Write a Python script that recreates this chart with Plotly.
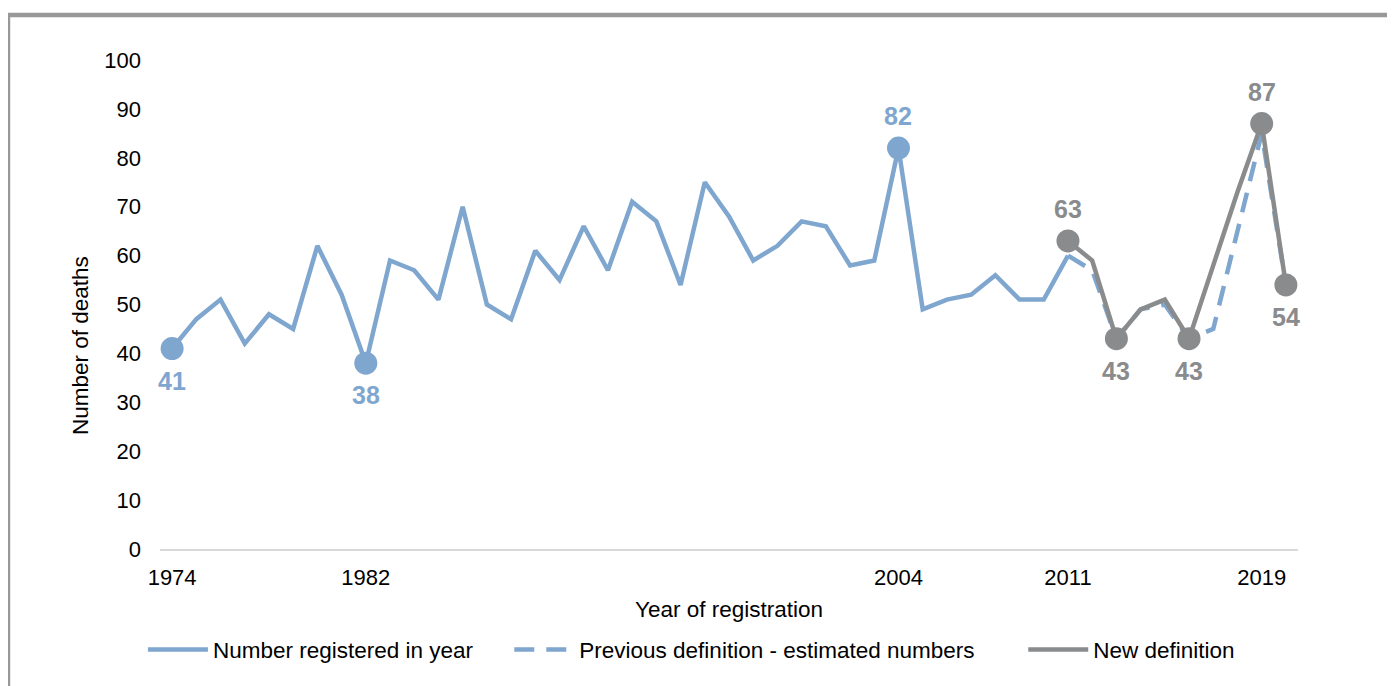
import plotly.graph_objects as go

# --- DATA ---
years_registered = list(range(1974, 2012))
registered = [41, 47, 51, 42, 48, 45, 62, 52, 38, 59, 57, 51, 70, 50, 47, 61, 55, 66, 57,
              71, 67, 54, 75, 68, 59, 62, 67, 66, 58, 59, 82, 49, 51, 52, 56, 51, 51, 60]

years_recent = list(range(2011, 2021))
previous_def = [60, 57, 43, 49, 50, 43, 45, 65, 85, 54]
new_def = [63, 59, 43, 49, 51, 43, 58, 73, 87, 54]

# highlighted points with labels (+1 = label above, -1 = below)
hl_reg_years = [1974, 1982, 2004]
hl_reg_side = [-1, -1, 1]
hl_new_years = [2011, 2013, 2016, 2019, 2020]
hl_new_side = [1, -1, -1, 1, -1]

x_ticks = [1974, 1982, 2004, 2011, 2019]

BLUE = "#7FA6CE"
GREY = "#898B8D"
FONT = "Liberation Sans, Arial, sans-serif"
PAD = "\u00a0"  # used to widen the gaps between legend entries

fig = go.Figure()

fig.add_trace(go.Scatter(
    x=years_registered, y=registered, mode="lines",
    name="Number registered in year" + PAD * 5,
    line=dict(color=BLUE, width=4.5)
))
fig.add_trace(go.Scatter(
    x=years_recent, y=previous_def, mode="lines",
    name="Previous definition - estimated numbers" + PAD * 7,
    line=dict(color=BLUE, width=4.5, dash="20px,12px")
))
fig.add_trace(go.Scatter(
    x=years_recent, y=new_def, mode="lines", name="New definition",
    line=dict(color=GREY, width=4.5)
))

reg_lookup = dict(zip(years_registered, registered))
new_lookup = dict(zip(years_recent, new_def))
hl_reg_vals = [reg_lookup[y] for y in hl_reg_years]
hl_new_vals = [new_lookup[y] for y in hl_new_years]

fig.add_trace(go.Scatter(
    x=hl_reg_years, y=hl_reg_vals, mode="markers",
    marker=dict(size=23, color=BLUE), showlegend=False, cliponaxis=False
))
fig.add_trace(go.Scatter(
    x=hl_new_years, y=hl_new_vals, mode="markers",
    marker=dict(size=23, color=GREY), showlegend=False, cliponaxis=False
))

annotations = []
for xs, vs, sides, col in [(hl_reg_years, hl_reg_vals, hl_reg_side, BLUE),
                           (hl_new_years, hl_new_vals, hl_new_side, GREY)]:
    for x, v, s in zip(xs, vs, sides):
        annotations.append(dict(
            x=x, y=v, xref="x", yref="y", text=str(v), showarrow=False,
            yshift=32 * s, xanchor="center", yanchor="middle",
            font=dict(family=FONT, size=25, color=col, weight="bold")
        ))

annotations += [
    dict(text="Number of deaths", xref="paper", yref="paper", x=-0.0703, y=0.417,
         textangle=-90, showarrow=False, font=dict(size=22.5),
         xanchor="center", yanchor="middle"),
    dict(text="Year of registration", xref="paper", yref="paper", x=0.5, y=-0.1227,
         showarrow=False, font=dict(size=22.5), xanchor="center", yanchor="middle"),
]

# the page body adds an 8px offset, so the figure is drawn 8px smaller
fig.update_layout(
    width=1387, height=678,
    margin=dict(l=152, r=97, t=52, b=137),
    paper_bgcolor="white", plot_bgcolor="white",
    font=dict(family=FONT, size=22, color="#000000"),
    xaxis=dict(
        range=[1973.5, 2020.5], tickvals=x_ticks, ticktext=[str(t) for t in x_ticks],
        showgrid=False, zeroline=False, showline=True, linecolor="#D9D9D9", linewidth=1.5,
        ticks="", ticklabelstandoff=8
    ),
    yaxis=dict(
        range=[0, 100], dtick=10, showgrid=False, zeroline=False, showline=False,
        ticks="", ticklabelstandoff=18
    ),
    legend=dict(
        orientation="h", x=-0.015, xanchor="left", y=-0.2065, yanchor="middle",
        font=dict(size=22.5), itemwidth=60
    ),
    annotations=annotations,
    shapes=[
        dict(type="rect", xref="paper", yref="paper", x0=-0.1336, x1=1.3, y0=-0.5, y1=1.092,
             line=dict(color="#989898", width=4.5), layer="below")
    ]
)

fig.write_html("out.html")
